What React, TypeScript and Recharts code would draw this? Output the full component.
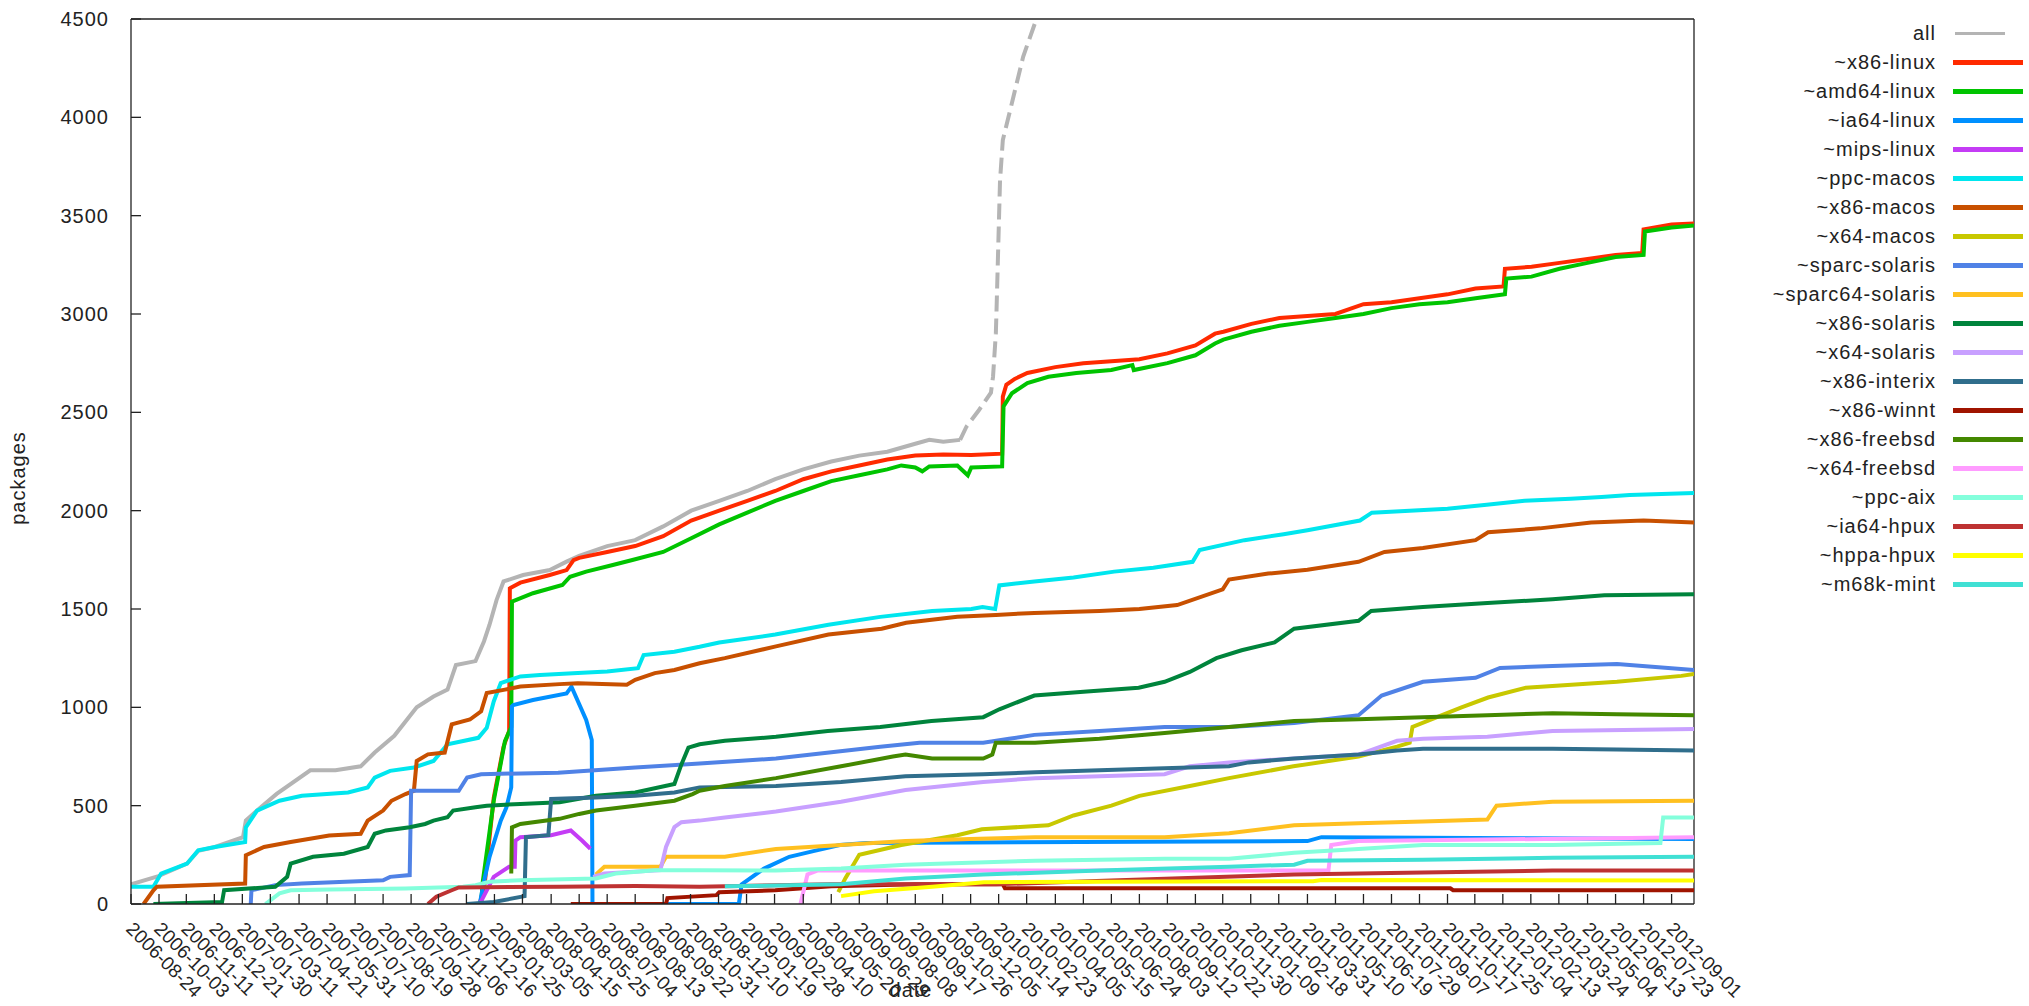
import { LineChart, Line, XAxis, YAxis, ReferenceLine } from "recharts";

// x values are days since 2006-08-24, y values are package counts
const tickLabels = [
  "2006-08-24", "2006-10-03", "2006-11-11", "2006-12-21", "2007-01-30", "2007-03-11", "2007-04-21",
  "2007-05-31", "2007-07-10", "2007-08-19", "2007-09-28", "2007-11-06", "2007-12-16", "2008-01-25",
  "2008-03-05", "2008-04-15", "2008-05-25", "2008-07-04", "2008-08-13", "2008-09-22", "2008-10-31",
  "2008-12-10", "2009-01-19", "2009-02-28", "2009-04-10", "2009-05-20", "2009-06-29", "2009-08-08",
  "2009-09-17", "2009-10-26", "2009-12-05", "2010-01-14", "2010-02-23", "2010-04-05", "2010-05-15",
  "2010-06-24", "2010-08-03", "2010-09-12", "2010-10-22", "2010-11-30", "2011-01-09", "2011-02-18",
  "2011-03-31", "2011-05-10", "2011-06-19", "2011-07-29", "2011-09-07", "2011-10-17", "2011-11-25",
  "2012-01-04", "2012-02-13", "2012-03-24", "2012-05-04", "2012-06-13", "2012-07-23", "2012-09-01",
];
const yTicks = [0, 500, 1000, 1500, 2000, 2500, 3000, 3500, 4000, 4500];

const allMain: [number, number][] = [
  [0, 100], [38, 140], [80, 205], [96, 270], [120, 290], [160, 340], [164, 425], [180, 475], [208, 560],
  [256, 680], [292, 680], [328, 700], [348, 770], [376, 855], [408, 1000], [432, 1055], [452, 1090],
  [464, 1215], [492, 1235], [504, 1335], [512, 1420], [522, 1545], [532, 1640], [560, 1673], [598, 1698],
  [622, 1741], [640, 1770], [680, 1820], [720, 1850], [760, 1920], [800, 2000], [840, 2050], [880, 2100],
  [920, 2160], [960, 2210], [1000, 2250], [1040, 2280], [1080, 2300], [1120, 2340], [1140, 2360],
  [1160, 2350], [1184, 2360],
];
const allTail: [number, number][] = [
  [1184, 2360], [1193, 2427], [1211, 2512], [1228, 2600], [1231, 2681], [1235, 2900], [1236, 3020],
  [1241, 3680], [1245, 3885], [1259, 4088], [1274, 4308], [1293, 4500], [1300, 4600],
];
const x86Linux: [number, number][] = [
  [498, 0], [505, 100], [518, 540], [532, 800], [540, 880], [541, 1605], [556, 1634], [598, 1673],
  [622, 1698], [632, 1749], [640, 1760], [680, 1790], [720, 1820], [760, 1870], [800, 1950], [840, 2000],
  [880, 2050], [920, 2100], [960, 2160], [1000, 2200], [1040, 2230], [1080, 2260], [1120, 2280],
  [1160, 2285], [1200, 2283], [1244, 2290], [1245, 2580], [1250, 2640], [1262, 2670], [1280, 2700],
  [1320, 2730], [1360, 2750], [1400, 2760], [1440, 2770], [1480, 2800], [1520, 2840], [1548, 2900],
  [1560, 2910], [1600, 2950], [1640, 2980], [1680, 2990], [1720, 3000], [1760, 3050], [1800, 3060],
  [1840, 3080], [1880, 3100], [1920, 3130], [1960, 3140], [1962, 3230], [2000, 3240], [2040, 3260],
  [2080, 3280], [2120, 3300], [2158, 3310], [2160, 3430], [2200, 3455], [2232, 3460],
];
const amd64Linux: [number, number][] = [
  [500, 0], [502, 104], [518, 525], [534, 828], [543, 900], [544, 1537], [574, 1580], [616, 1622],
  [627, 1664], [650, 1690], [688, 1724], [716, 1749], [760, 1790], [800, 1860], [840, 1930], [880, 1990],
  [920, 2050], [960, 2100], [1000, 2150], [1040, 2180], [1080, 2210], [1100, 2230], [1120, 2220],
  [1130, 2200], [1140, 2225], [1180, 2230], [1195, 2180], [1200, 2220], [1244, 2225], [1246, 2530],
  [1258, 2597], [1280, 2649], [1310, 2681], [1350, 2700], [1400, 2715], [1430, 2740], [1432, 2715],
  [1480, 2750], [1520, 2790], [1548, 2850], [1560, 2870], [1600, 2910], [1640, 2940], [1680, 2960],
  [1720, 2980], [1760, 3000], [1800, 3030], [1840, 3050], [1880, 3060], [1920, 3080], [1962, 3100],
  [1964, 3180], [2000, 3190], [2040, 3230], [2080, 3260], [2120, 3290], [2160, 3300], [2162, 3420],
  [2200, 3440], [2232, 3450],
];
const ia64Linux: [number, number][] = [
  [498, 0], [505, 130], [512, 240], [528, 424], [536, 490], [543, 593], [544, 1005], [546, 1012],
  [574, 1037], [622, 1071], [629, 1105], [650, 936], [658, 834], [659, 0], [868, 0], [872, 100],
  [904, 180], [940, 240], [976, 270], [1012, 300], [1050, 310], [1680, 320], [1700, 340], [2232, 330],
];
const mipsLinux: [number, number][] = [
  [498, 0], [518, 138], [540, 190], [548, 190], [549, 323], [556, 340], [600, 350], [628, 374],
  [644, 323], [656, 281],
];
const ppcMacos: [number, number][] = [
  [0, 88], [32, 88], [43, 155], [80, 205], [96, 273], [120, 290], [163, 315], [164, 390], [180, 475],
  [212, 525], [244, 550], [310, 567], [338, 593], [348, 643], [370, 677], [404, 694], [432, 727],
  [452, 812], [496, 845], [508, 896], [518, 1030], [528, 1123], [556, 1157], [584, 1165], [638, 1174],
  [680, 1182], [724, 1199], [732, 1266], [776, 1283], [812, 1308], [840, 1330], [920, 1370], [996, 1420],
  [1070, 1460], [1144, 1490], [1200, 1500], [1216, 1510], [1234, 1500], [1240, 1620], [1290, 1640],
  [1346, 1660], [1404, 1690], [1460, 1710], [1516, 1740], [1526, 1800], [1590, 1850], [1646, 1880],
  [1680, 1900], [1755, 1950], [1772, 1990], [1826, 2000], [1880, 2010], [1936, 2030], [1990, 2050],
  [2056, 2060], [2100, 2070], [2140, 2080], [2232, 2090],
];
const x86Macos: [number, number][] = [
  [18, 0], [32, 70], [37, 88], [163, 104], [164, 248], [190, 290], [228, 315], [283, 348], [328, 357],
  [338, 424], [360, 475], [372, 525], [392, 559], [404, 576], [408, 727], [424, 761], [448, 770],
  [458, 913], [484, 938], [500, 980], [508, 1073], [534, 1090], [556, 1106], [612, 1118], [638, 1123],
  [708, 1115], [720, 1140], [748, 1174], [776, 1190], [812, 1224], [848, 1250], [921, 1310], [996, 1370],
  [1072, 1400], [1107, 1430], [1180, 1460], [1235, 1470], [1290, 1480], [1383, 1490], [1440, 1500],
  [1494, 1520], [1559, 1600], [1568, 1650], [1624, 1680], [1680, 1700], [1753, 1740], [1790, 1790],
  [1845, 1810], [1920, 1850], [1938, 1890], [2012, 1910], [2085, 1940], [2160, 1950], [2232, 1940],
];
const x64Macos: [number, number][] = [
  [1010, 60], [1020, 130], [1040, 250], [1100, 300], [1180, 350], [1215, 380], [1310, 400], [1346, 450],
  [1400, 500], [1440, 550], [1512, 600], [1568, 640], [1660, 700], [1753, 750], [1808, 800], [1826, 820],
  [1830, 900], [1865, 950], [1900, 1000], [1938, 1050], [1992, 1100], [2122, 1130], [2214, 1160],
  [2232, 1170],
];
const sparcSolaris: [number, number][] = [
  [171, 0], [172, 70], [206, 96], [244, 104], [360, 121], [370, 138], [398, 147], [400, 576], [468, 576],
  [480, 643], [500, 660], [610, 668], [720, 694], [812, 714], [921, 740], [1070, 800], [1126, 820],
  [1217, 820], [1254, 840], [1290, 860], [1383, 880], [1476, 900], [1568, 900], [1661, 920], [1753, 960],
  [1786, 1060], [1845, 1130], [1920, 1150], [1955, 1200], [2030, 1210], [2122, 1220], [2232, 1190],
];
const sparc64Solaris: [number, number][] = [
  [664, 150], [676, 189], [756, 189], [764, 240], [848, 240], [921, 280], [1014, 300], [1106, 320],
  [1198, 330], [1291, 340], [1476, 340], [1568, 360], [1661, 400], [1753, 410], [1845, 420], [1937, 430],
  [1950, 500], [2030, 520], [2232, 525],
];
const x86Solaris: [number, number][] = [
  [32, 0], [130, 10], [133, 70], [206, 88], [223, 138], [228, 205], [260, 240], [304, 256], [338, 290],
  [348, 357], [364, 374], [398, 390], [420, 407], [432, 424], [452, 441], [460, 475], [492, 492],
  [508, 500], [556, 509], [612, 517], [664, 550], [720, 567], [776, 610], [786, 710], [796, 795],
  [812, 812], [848, 830], [921, 850], [995, 880], [1070, 900], [1143, 930], [1217, 950], [1240, 990],
  [1290, 1060], [1365, 1080], [1439, 1100], [1476, 1130], [1512, 1180], [1550, 1250], [1586, 1290],
  [1633, 1330], [1661, 1400], [1753, 1440], [1771, 1490], [1845, 1510], [1937, 1530], [2030, 1550],
  [2104, 1570], [2232, 1575],
];
const x64Solaris: [number, number][] = [
  [660, 138], [676, 155], [756, 172], [764, 290], [776, 391], [786, 416], [812, 424], [848, 440],
  [921, 470], [1014, 520], [1106, 580], [1161, 600], [1217, 620], [1291, 640], [1383, 650], [1476, 660],
  [1512, 700], [1568, 720], [1661, 740], [1753, 760], [1808, 830], [1845, 840], [1937, 850], [2030, 880],
  [2232, 890],
];
const x86Interix: [number, number][] = [
  [480, 0], [518, 10], [562, 40], [564, 340], [596, 350], [600, 534], [664, 542], [720, 550], [776, 567],
  [812, 593], [921, 600], [1014, 620], [1106, 650], [1217, 660], [1291, 670], [1383, 680], [1476, 690],
  [1568, 700], [1596, 720], [1661, 740], [1753, 760], [1808, 780], [1845, 790], [2030, 790], [2122, 785],
  [2232, 780],
];
const x86Winnt: [number, number][] = [
  [628, 0], [764, 0], [766, 30], [836, 45], [840, 60], [920, 70], [1000, 90], [1120, 100], [1245, 100],
  [1248, 80], [1884, 80], [1888, 70], [2232, 70],
];
const x86Freebsd: [number, number][] = [
  [543, 155], [544, 390], [556, 407], [612, 433], [640, 458], [664, 475], [720, 500], [776, 525],
  [802, 559], [812, 576], [848, 600], [921, 640], [1014, 700], [1088, 750], [1106, 760], [1144, 740],
  [1217, 740], [1230, 760], [1235, 820], [1291, 820], [1383, 840], [1476, 870], [1568, 900], [1661, 930],
  [1753, 940], [1845, 950], [1937, 960], [2030, 970], [2122, 965], [2232, 960],
];
const x64Freebsd: [number, number][] = [
  [956, 0], [966, 150], [980, 170], [1710, 170], [1714, 300], [1753, 320], [2232, 340],
];
const ppcAix: [number, number][] = [
  [192, 0], [212, 54], [228, 70], [283, 74], [392, 79], [474, 88], [492, 96], [512, 113], [556, 121],
  [664, 130], [692, 155], [748, 172], [812, 172], [921, 170], [1014, 180], [1106, 200], [1198, 210],
  [1291, 220], [1476, 230], [1568, 230], [1661, 260], [1753, 280], [1845, 300], [2030, 300], [2184, 310],
  [2188, 440], [2232, 440],
];
const ia64Hpux: [number, number][] = [
  [424, 0], [436, 37], [458, 70], [468, 84], [612, 88], [720, 91], [812, 88], [1000, 100], [1235, 100],
  [1400, 120], [1661, 150], [1845, 160], [2030, 170], [2232, 170],
];
const hppaHpux: [number, number][] = [
  [1014, 40], [1061, 65], [1144, 88], [1218, 111], [1688, 116], [1700, 122], [2232, 120],
];
const m68kMint: [number, number][] = [
  [848, 90], [1014, 100], [1106, 130], [1217, 150], [1383, 170], [1568, 190], [1661, 200], [1680, 220],
  [1845, 225], [2030, 235], [2232, 240],
];

const series = [
  { name: "all", color: "#b4b4b4", data: allMain },
  { name: "~x86-linux", color: "#ff2a00", data: x86Linux },
  { name: "~amd64-linux", color: "#00c400", data: amd64Linux },
  { name: "~ia64-linux", color: "#0090ff", data: ia64Linux },
  { name: "~mips-linux", color: "#c43cf5", data: mipsLinux },
  { name: "~ppc-macos", color: "#00e6ee", data: ppcMacos },
  { name: "~x86-macos", color: "#c85000", data: x86Macos },
  { name: "~x64-macos", color: "#c8c800", data: x64Macos },
  { name: "~sparc-solaris", color: "#5082e6", data: sparcSolaris },
  { name: "~sparc64-solaris", color: "#ffc020", data: sparc64Solaris },
  { name: "~x86-solaris", color: "#00843c", data: x86Solaris },
  { name: "~x64-solaris", color: "#c8a0ff", data: x64Solaris },
  { name: "~x86-interix", color: "#306e8c", data: x86Interix },
  { name: "~x86-winnt", color: "#a01400", data: x86Winnt },
  { name: "~x86-freebsd", color: "#448800", data: x86Freebsd },
  { name: "~x64-freebsd", color: "#ff9cff", data: x64Freebsd },
  { name: "~ppc-aix", color: "#84ffdc", data: ppcAix },
  { name: "~ia64-hpux", color: "#be3232", data: ia64Hpux },
  { name: "~hppa-hpux", color: "#ffff00", data: hppaHpux },
  { name: "~m68k-mint", color: "#40e0d4", data: m68kMint },
];

const BASE = Date.UTC(2006, 7, 24);
const tickDays = tickLabels.map((s) => Math.round((Date.parse(s + "T00:00:00Z") - BASE) / 86400000));
const toRows = (pts: [number, number][]) => pts.map(([d, v]) => ({ d, v }));

const FONT = "'Liberation Sans', Arial, sans-serif";
const INK = "#222";

function XTick(props: any) {
  const { x, y, index } = props;
  const tx = x - 6;
  const ty = y + 26;
  return (
    <g>
      <line x1={x} y1={y} x2={x} y2={y - 10} stroke={INK} strokeWidth={1.3} />
      <text x={tx} y={ty} transform={`rotate(45 ${tx} ${ty})`} fontSize={19}
        fontFamily={FONT} fill={INK} textAnchor="start">
        {tickLabels[index]}
      </text>
    </g>
  );
}

function YTick(props: any) {
  const { x, y, payload } = props;
  return (
    <g>
      <line x1={x} y1={y} x2={x + 10} y2={y} stroke={INK} strokeWidth={1.3} />
      <text x={x - 22} y={y} dy="0.35em" fontSize={20} letterSpacing={1} fontFamily={FONT}
        fill={INK} textAnchor="end">
        {payload.value}
      </text>
    </g>
  );
}

export default function App() {
  return (
    <div style={{ position: "absolute", left: 0, top: 0, width: 2029, height: 1006, background: "#fff", fontFamily: FONT }}>
      <LineChart width={2029} height={1006} margin={{ top: 19, right: 335, bottom: 0, left: 0 }}>
        <XAxis type="number" dataKey="d" domain={[0, 2232]} ticks={tickDays} interval={0}
          allowDataOverflow height={102} tickLine={false} tickSize={0} tickMargin={0}
          tick={<XTick />} axisLine={{ stroke: INK, strokeWidth: 1.3 }} />
        <YAxis type="number" domain={[0, 4500]} ticks={yTicks} allowDataOverflow width={131}
          tickLine={false} tickSize={0} tickMargin={0} tick={<YTick />}
          axisLine={{ stroke: INK, strokeWidth: 1.3 }} />
        <ReferenceLine y={4500} stroke={INK} strokeWidth={1.3} />
        <ReferenceLine x={2232} stroke={INK} strokeWidth={1.3} />
        <Line data={toRows(allTail)} dataKey="v" name="all-tail" type="linear" stroke="#b4b4b4"
          strokeWidth={4} strokeDasharray="16 7" dot={false} activeDot={false} isAnimationActive={false} />
        {series.map((s) => (
          <Line key={s.name} data={toRows(s.data)} dataKey="v" name={s.name} type="linear"
            stroke={s.color} strokeWidth={4} dot={false} activeDot={false} isAnimationActive={false} />
        ))}
      </LineChart>

      {/* axis titles */}
      <div style={{ position: "absolute", left: 18, top: 478, transform: "translate(-50%, -50%) rotate(-90deg)", fontSize: 20, letterSpacing: 1, color: INK, whiteSpace: "nowrap" }}>
        packages
      </div>
      <div style={{ position: "absolute", left: 911, top: 990, transform: "translate(-50%, -50%)", fontSize: 20, letterSpacing: 1, color: INK }}>
        date
      </div>

      {/* legend */}
      {series.map((s, k) => {
        const yc = 33 + 29 * k;
        const isAll = s.name === "all";
        return (
          <div key={s.name}>
            <div style={{ position: "absolute", left: 1636, top: yc - 12, width: 300, textAlign: "right", fontSize: 20, lineHeight: "24px", letterSpacing: 1, color: INK }}>
              {s.name}
            </div>
            <div style={{ position: "absolute", left: isAll ? 1955 : 1953, top: yc - (isAll ? 1.5 : 2.5), width: isAll ? 50 : 70, height: isAll ? 3 : 5, background: s.color }} />
          </div>
        );
      })}
    </div>
  );
}
